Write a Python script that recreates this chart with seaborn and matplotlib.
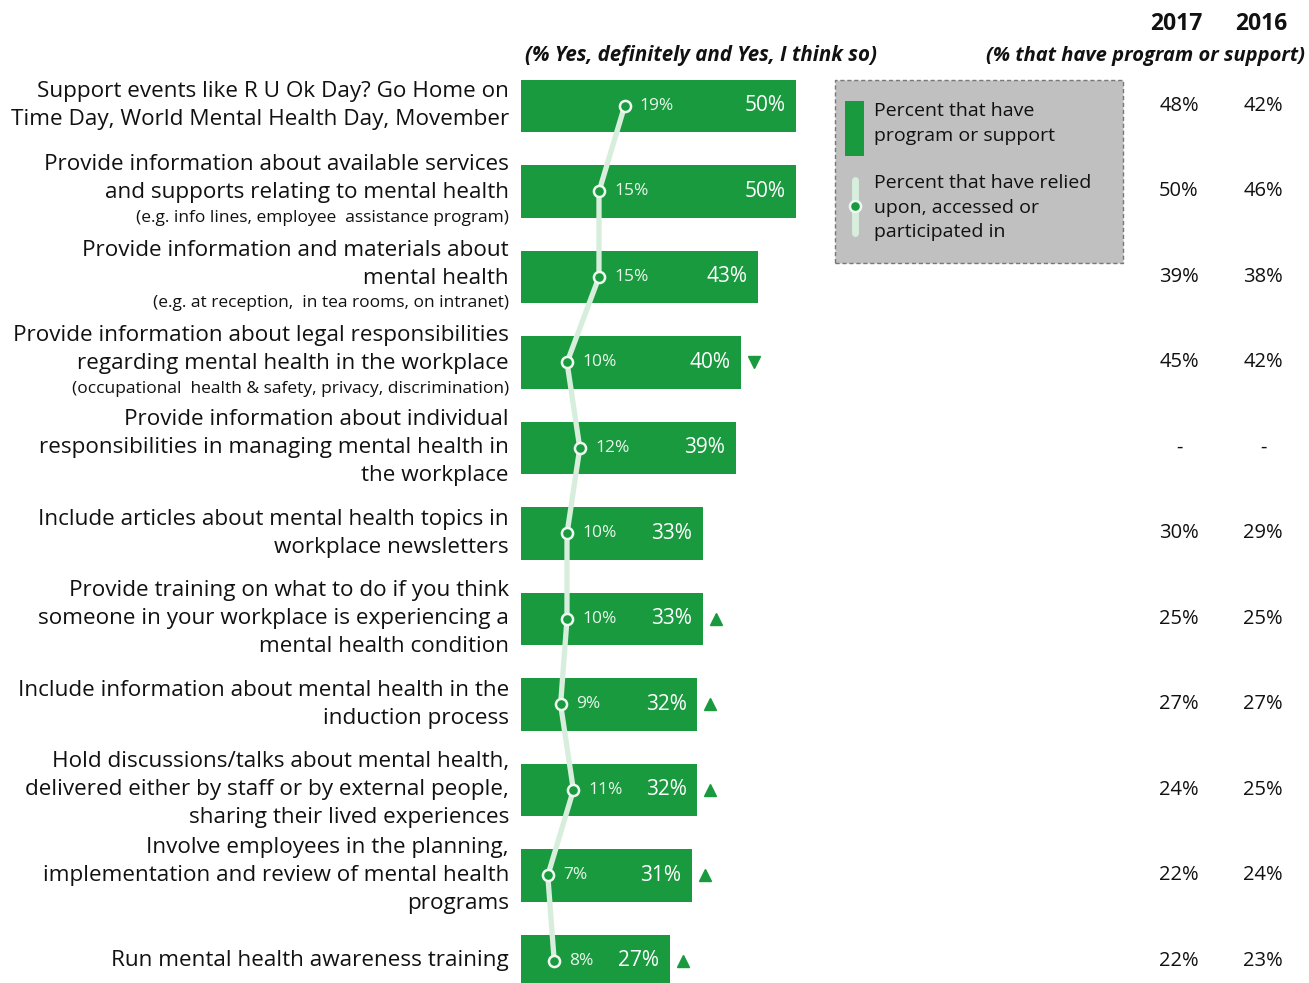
import matplotlib
matplotlib.use("Agg")
import matplotlib.pyplot as plt
import matplotlib.transforms as mtransforms
from matplotlib.patches import Rectangle
from matplotlib.lines import Line2D
import pandas as pd
import seaborn as sns

# ---- data ----
categories = [
    "Support events like R U Ok Day? Go Home on\nTime Day, World Mental Health Day, Movember",
    "Provide information about available services\nand supports relating to mental health",
    "Provide information and materials about\nmental health",
    "Provide information about legal responsibilities\nregarding mental health in the workplace",
    "Provide information about individual\nresponsibilities in managing mental health in\nthe workplace",
    "Include articles about mental health topics in\nworkplace newsletters",
    "Provide training on what to do if you think\nsomeone in your workplace is experiencing a\nmental health condition",
    "Include information about mental health in the\ninduction process",
    "Hold discussions/talks about mental health,\ndelivered either by staff or by external people,\nsharing their lived experiences",
    "Involve employees in the planning,\nimplementation and review of mental health\nprograms",
    "Run mental health awareness training",
]
notes = [
    "",
    "(e.g. info lines, employee  assistance program)",
    "(e.g. at reception,  in tea rooms, on intranet)",
    "(occupational  health & safety, privacy, discrimination)",
    "", "", "", "", "", "", "",
]
have_program = [50, 50, 43, 40, 39, 33, 33, 32, 32, 31, 27]
relied_upon = [19, 15, 15, 10, 12, 10, 10, 9, 11, 7, 8]
change = ["", "", "", "down", "", "", "up", "up", "up", "up", "up"]
col_2017 = ["48%", "50%", "39%", "45%", "-", "30%", "25%", "27%", "24%", "22%", "22%"]
col_2016 = ["42%", "46%", "38%", "42%", "-", "29%", "25%", "27%", "25%", "24%", "23%"]
years = ["2017", "2016"]

# ---- style ----
GREEN = "#1a9a3f"
LIGHT = "#d7eedc"
W, H = 1309, 983

sns.set_theme(style="white")
plt.rcParams["font.family"] = ["Open Sans", "DejaVu Sans"]

fig = plt.figure(figsize=(W / 100, H / 100), dpi=100)


def fx(px):
    return px / W


def fy(py):
    return 1 - py / H


# main axes: value 0 at x=521px, 5.5 px per percentage point; rows 85.5 px apart
ax_left, row0, pitch = 521, 106, 85.5
ax = fig.add_axes([fx(ax_left), 0, 1 - fx(ax_left), 1 - (row0 - pitch / 2) / H])
ax.set_xlim(0, (W - ax_left) / 5.5)
ax.set_ylim((H - row0) / pitch, -0.5)

n = len(categories)
df = pd.DataFrame({"row": [str(i) for i in range(n)], "have": have_program,
                   "relied": relied_upon, "pos": list(range(n))})

sns.barplot(data=df, x="have", y="row", order=df["row"].tolist(), orient="h",
            color=GREEN, saturation=1, width=0.61, ax=ax, edgecolor="none")
ax.set_ylim((H - row0) / pitch, -0.5)
ax.set_axis_off()

# line series on its own horizontal scale (0 at 503px, 6.4 px per point)
ax2 = ax.twiny()
ax2.set_xlim((ax_left - 503) / 6.4, (W - 503) / 6.4)
ax2.set_ylim((H - row0) / pitch, -0.5)
sns.lineplot(data=df, x="relied", y="pos", sort=False, orient="y", ax=ax2,
             color=LIGHT, linewidth=3.8, zorder=3)
ax2.plot(df["relied"], df["pos"], linestyle="none", marker="o", markersize=8,
         markerfacecolor=GREEN, markeredgecolor="#eef8f0", markeredgewidth=1.8, zorder=4)
ax2.set_axis_off()

for i in range(n):
    # value of the bar, right-aligned inside the bar
    ax.annotate(f"{have_program[i]}%", xy=(have_program[i], i), xytext=(-7.5, 0),
                textcoords="offset points", ha="right", va="center",
                color="white", fontsize=15)
    # value of the line point
    ax2.annotate(f"{relied_upon[i]}%", xy=(relied_upon[i], i), xytext=(11, 0),
                 textcoords="offset points", ha="left", va="center",
                 color="#e8f6eb", fontsize=12.5)
    # change markers
    if change[i]:
        ax.plot(have_program[i] + 2.4, i, linestyle="none",
                marker="^" if change[i] == "up" else "v",
                markersize=9, color=GREEN, clip_on=False)

# category labels to the left of the bars
lab_tr = mtransforms.blended_transform_factory(fig.transFigure, ax.transData)
for i in range(n):
    lines = [(t, 16.2) for t in categories[i].split("\n")]
    if notes[i]:
        lines.append((notes[i], 12.5))
    # vertical pixel offsets of each line centre
    offs = [0.0]
    for k in range(1, len(lines)):
        offs.append(offs[-1] + (28 if lines[k][1] > 14 else 25))
    mid = (offs[0] + offs[-1]) / 2
    for (txt, size), o in zip(lines, offs):
        ax.annotate(txt, xy=(fx(509), i), xycoords=lab_tr,
                    xytext=(0, -(o - mid) * 0.72), textcoords="offset points",
                    ha="right", va="center", fontsize=size, color="#111111")
    ax.text(fx(1179), i, col_2017[i], transform=lab_tr, ha="center", va="center",
            fontsize=14.5, color="#111111")
    ax.text(fx(1263), i, col_2016[i], transform=lab_tr, ha="center", va="center",
            fontsize=14.5, color="#111111")

# headers
fig.text(fx(1176), fy(24), years[0], ha="center", va="center", fontsize=16.5,
         fontweight="bold", color="#111111")
fig.text(fx(1261), fy(24), years[1], ha="center", va="center", fontsize=16.5,
         fontweight="bold", color="#111111")
fig.text(fx(1146), fy(56), "(% that have program or support)", ha="center", va="center",
         fontsize=14.5, fontweight="bold", style="italic", color="#111111")
fig.text(fx(701), fy(56), "(% Yes, definitely and Yes, I think so)", ha="center",
         va="center", fontsize=14.8, fontweight="bold", style="italic", color="#111111")

# legend box
fig.patches.append(Rectangle((fx(835), fy(263)), fx(1123 - 835), (263 - 80) / H,
                             transform=fig.transFigure, facecolor="#c0c0c0",
                             edgecolor="#777777", linestyle=(0, (3, 2)), linewidth=1))
fig.patches.append(Rectangle((fx(845), fy(156)), fx(19), (156 - 101) / H,
                             transform=fig.transFigure, facecolor=GREEN, edgecolor="none"))
fig.lines.append(Line2D([fx(855), fx(855)], [fy(180), fy(233)], transform=fig.transFigure,
                        color=LIGHT, linewidth=5, solid_capstyle="round"))
fig.lines.append(Line2D([fx(855)], [fy(206)], transform=fig.transFigure, marker="o",
                        markersize=8, markerfacecolor=GREEN, markeredgecolor="#eef8f0",
                        markeredgewidth=1.8))
for txt, py in [("Percent that have", 111), ("program or support", 136),
                ("Percent that have relied", 183), ("upon, accessed or", 208),
                ("participated in", 232)]:
    fig.text(fx(874), fy(py), txt, ha="left", va="center", fontsize=14, color="#111111")

fig.savefig("out.png", dpi=100, facecolor="white")
